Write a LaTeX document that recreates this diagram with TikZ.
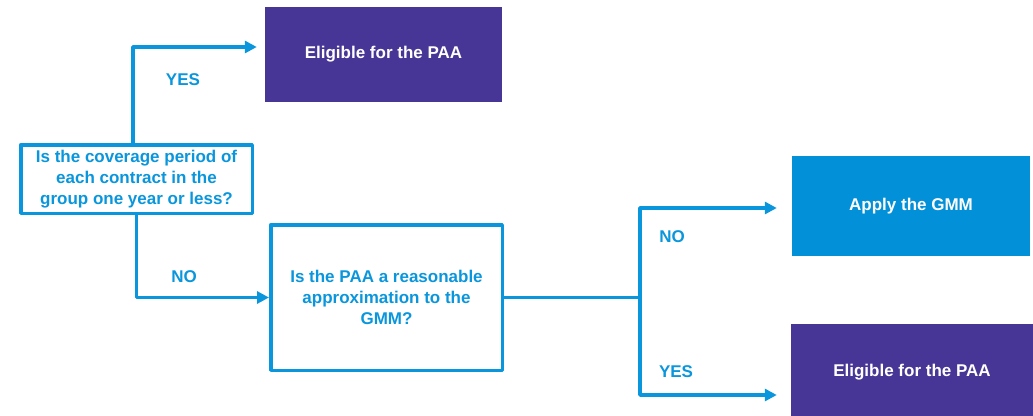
\documentclass[tikz,border=0pt]{standalone}
\usepackage{fontspec}
\setmainfont{Liberation Sans}
\usetikzlibrary{arrows.meta}
\definecolor{ifrsblue}{RGB}{10,150,220}
\definecolor{boxblue}{RGB}{2,144,216}
\definecolor{ifrspurple}{RGB}{72,54,150}
\begin{document}
\begin{tikzpicture}[x=1pt,y=-1pt,line join=round,
		font=\fontsize{17}{21}\selectfont\bfseries,
		flow/.style={draw=ifrsblue,line width=3.5pt,-{Triangle[length=12pt,width=12pt]}},
		ask/.style={draw=ifrsblue,line width=3.5pt,text=ifrsblue,align=center,minimum width=231.5pt,inner sep=0pt},
		result/.style={fill=#1,text=white,align=center,minimum width=237pt,minimum height=95pt,inner sep=0pt},
		lbl/.style={text=ifrsblue,inner sep=0pt}]
	\useasboundingbox (0,0) rectangle (1033,415);
	% questions
	\node[ask,minimum height=68.5pt] (q1) at (136.5,179) {Is the coverage period of\\ each contract in the\\ group one year or less?};
	\node[ask,minimum height=145.5pt] (q2) at (386.5,297.5) {Is the PAA a reasonable\\ approximation to the\\ GMM?};
	% outcomes
	\node[result=ifrspurple] (paa1) at (383.5,54.5) {Eligible for the PAA};
	\node[result=boxblue,minimum width=238pt,minimum height=100pt] (gmm) at (911,206) {Apply the GMM};
	\node[result=ifrspurple,minimum width=242pt,minimum height=96pt] (paa2) at (912,372) {Eligible for the PAA};
	% branches
	\draw[flow,shorten >=8pt] ([xshift=-3.5pt]q1.north) |- ([yshift=7.5pt]paa1.west);
	\draw[flow] (q1.south) |- (q2.west);
	\draw[draw=ifrsblue,line width=3.5pt] (q2.east) -- ++(136,0) coordinate (split);
	\draw[flow,shorten >=15pt] (split) |- ([yshift=-2pt]gmm.west);
	\draw[flow,shorten >=14pt] (split) |- ([yshift=-23pt]paa2.west);
	\node[lbl] (yes1) at (183,80) {YES};
	\node[lbl] (no1) at (184,277) {NO};
	\node[lbl] (no2) at (672,237) {NO};
	\node[lbl] (yes2) at (676,372) {YES};
\end{tikzpicture}
\end{document}
